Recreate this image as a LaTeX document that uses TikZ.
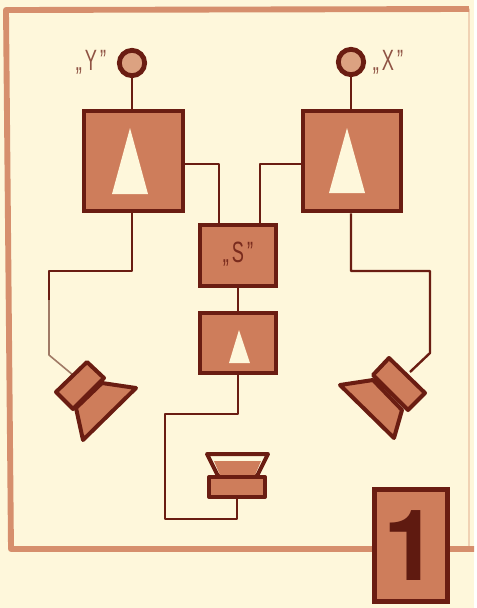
\documentclass[tikz,border=0pt]{standalone}
\usepackage{fontspec}
\setmainfont{Liberation Sans}
\newfontfamily\numfont{TeX Gyre Heros}

\definecolor{paper}{HTML}{FEF7DB}
\definecolor{rust}{HTML}{CE7D5B}
\definecolor{edge}{HTML}{6A1D12}
\definecolor{rim}{HTML}{D68F6D}
\definecolor{pale}{HTML}{A07A66}

\tikzset{
    ampbox/.style={draw=edge,fill=rust,line width=3.5pt,inner sep=0pt},
    terminal/.style={circle,draw=edge,fill=rust!70!paper,line width=3.6pt,inner sep=0pt,minimum size=19pt},
    wire/.style={draw=edge,line width=1.8pt,line join=round},
    thinwire/.style={draw=pale,line width=1.2pt,line join=round},
    tagtext/.style={text=edge!75!paper,font=\fontsize{22}{22}\selectfont,xscale=.62,transform shape,inner sep=0pt},
    speaker/.style={draw=edge,fill=rust,line width=3pt,line join=round}
}

\begin{document}
\begin{tikzpicture}[x=0.75pt,y=-0.75pt]

    % Paper
    \fill[paper] (0,0) rectangle (474,608);

    % Frame
    \draw[rim,line width=1pt,opacity=.35] (469,9) -- (469,549);
    \draw[rim,line width=4.4pt,line join=round] (469,9) -- (6,10) -- (11,549) -- (474,549);

    % Amplifiers
    \node[ampbox,minimum width=74.25pt,minimum height=75pt] (ampY) at (133.5,161) {};
    \node[ampbox,minimum width=73.5pt,minimum height=75pt] (ampX) at (352,161) {};
    \node[ampbox,minimum width=57pt,minimum height=45.75pt] (mixS) at (238,255.5) {};
    \node[ampbox,minimum width=57pt,minimum height=45pt] (ampS) at (238,343) {};

    % Triangles
    \fill[paper] (130,128) -- (148,194) -- (112,194) -- cycle;
    \fill[paper] (347,128) -- (365,193) -- (329,193) -- cycle;
    \fill[paper] (239,330) -- (250,363) -- (229,363) -- cycle;

    % Terminals
    \node[terminal] (termY) at (132,63) {};
    \node[terminal] (termX) at (351,62) {};

    % Labels
    \node[tagtext] (labY) at (91,62) {„\,Y\,”};
    \node[tagtext] (labX) at (388,62) {„\,X\,”};
    \node[tagtext,text=edge!85!rust] (labS) at (238,254) {„\,S\,”};

    % Wire ends
    \coordinate (tapY) at (ampY.east |- 0,164);
    \coordinate (tapX) at (ampX.west |- 0,164);
    \coordinate (inY) at (219,224);
    \coordinate (inX) at (260,224);
    \coordinate (kneeL) at (49,355);
    \coordinate (kneeR) at (430,353);
    \coordinate (coilL) at (73,375);
    \coordinate (coilR) at (410,372);
    \coordinate (coilB) at (237,498);

    % Wires
    \draw[wire] (termY.south) -- (termY.south |- ampY.north);
    \draw[wire] (termX.south) -- (termX.south |- ampX.north);
    \draw[wire] (tapY) -| (inY);
    \draw[wire] (tapX) -| (inX);
    \draw[wire] (mixS.south) -- (ampS.north);
    \draw[wire] (termY |- ampY.south) -- (132,271) -- (49,271) -- (49,300);
    \draw[thinwire] (49,300) -- (kneeL) -- (coilL);
    \draw[wire] (termX |- ampX.south) -- (351,271) -- (430,271) -- (kneeR) -- (coilR);
    \draw[wire] (ampS.south) -- (238,414) -- (165,414) -- (165,519) -- (coilB |- 0,519) -- (coilB);

    % Left speaker
    \draw[speaker] (102,383) -- (136,388) -- (83,440) -- (76,408) -- cycle;
    \draw[speaker] (87,362) -- (104,378) -- (73,409) -- (56,392) -- cycle;

    % Right speaker
    \draw[speaker] (373,380) -- (340,385) -- (394,438) -- (402,410) -- cycle;
    \draw[speaker] (389,358) -- (425,393) -- (408,410) -- (373,375) -- cycle;

    % Bottom speaker
    \draw[speaker,fill=paper] (207,454) -- (268,454) -- (257,476) -- (218,476) -- cycle;
    \fill[rust] (214,461) -- (261,461) -- (255,475) -- (220,475) -- cycle;
    \draw[speaker] (209,477) rectangle (265,497);

    % Number tag
    \node[ampbox,line width=4.2pt,minimum width=54.75pt,minimum height=84pt,text=edge!90!black,
          font=\fontsize{74}{74}\numfont\bfseries] (numTag) at (411,545.5) {1};

\end{tikzpicture}
\end{document}
